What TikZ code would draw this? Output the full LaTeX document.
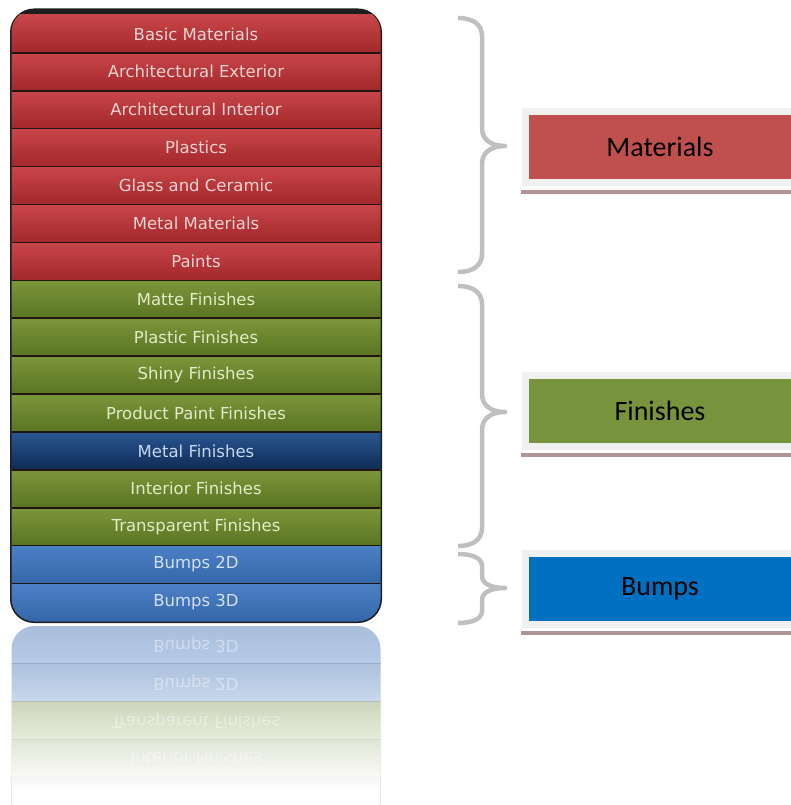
\documentclass[tikz,border=0pt]{standalone}
\usepackage{fontspec}
\newfontfamily\rowfont{DejaVu Sans}
\newfontfamily\labfont{Carlito}
\usetikzlibrary{calc}
\definecolor{rowT-red}{HTML}{C84649}
\definecolor{rowB-red}{HTML}{A3272B}
\definecolor{rowX-red}{HTML}{EED3D4}
\definecolor{rowT-green}{HTML}{7B963A}
\definecolor{rowB-green}{HTML}{5A7422}
\definecolor{rowX-green}{HTML}{E3EBC9}
\definecolor{rowT-mblue}{HTML}{2A5792}
\definecolor{rowB-mblue}{HTML}{0F2B56}
\definecolor{rowX-mblue}{HTML}{C6D7EF}
\definecolor{rowT-blue}{HTML}{4C80C4}
\definecolor{rowB-blue}{HTML}{3566AA}
\definecolor{rowX-blue}{HTML}{D3E0F3}
\definecolor{paneledge}{HTML}{1E1E1E}
\definecolor{sepcol}{HTML}{241515}
\definecolor{bracecol}{HTML}{BFBFBF}
\definecolor{framecol}{HTML}{F0F0F0}
\definecolor{shadowcol}{HTML}{B39494}
\definecolor{labred}{HTML}{C0504D}
\definecolor{labgreen}{HTML}{77933C}
\definecolor{labblue}{HTML}{0070C0}
\tikzset{
  rowbox/.style={minimum width=380pt, minimum height=37.9pt, inner sep=0pt, outer sep=0pt,
    font=\rowfont\fontsize{16.5}{18}\selectfont},
  sepline/.style={draw=sepcol, line width=1.6pt},
  bracestyle/.style={draw=bracecol, line width=4.5pt, line join=round},
  labelbox/.style={draw=framecol, line width=7pt, minimum width=269pt, minimum height=71pt,
    inner sep=0pt, font=\labfont\fontsize{28}{30}\selectfont, text=black},
  shadowbar/.style={fill=shadowcol}
}
\newcommand\mybrace[4]{%
  \draw[bracestyle] (458,#1) .. controls (474,#1) and (482,#1+#4*0.4) .. (482,#1+#4)
    -- (482,#2-#4) .. controls (482,#2-#4*0.4) and (490,#2) .. (505,#2)
    .. controls (490,#2) and (482,#2+#4*0.4) .. (482,#2+#4)
    -- (482,#3-#4) .. controls (482,#3-#4*0.4) and (474,#3) .. (458,#3);}
\begin{document}
\begin{tikzpicture}[x=1pt,y=-1pt]
\useasboundingbox (0,0) rectangle (790,805);
% panel base
\fill[paneledge, rounded corners=24pt] (10,8.5) rectangle (382,623);
\begin{scope}
  \clip[rounded corners=23pt] (11.5,9) rectangle (380.5,621.5);
  \foreach \t/\c [count=\i] in {Basic Materials/red, Architectural Exterior/red,
      Architectural Interior/red, Plastics/red, Glass and Ceramic/red, Metal Materials/red,
      Paints/red, Matte Finishes/green, Plastic Finishes/green, Shiny Finishes/green,
      Product Paint Finishes/green, Metal Finishes/mblue, Interior Finishes/green,
      Transparent Finishes/green, Bumps 2D/blue, Bumps 3D/blue}{
    \node[rowbox, top color=rowT-\c, bottom color=rowB-\c, text=rowX-\c] (r\i)
      at (196,{15+37.9*(\i-1)+18.95}) {\t};
  }
  \foreach \i in {1,...,15}{
    \draw[sepline] (r\i.south west) -- (r\i.south east);
  }
\end{scope}
% reflection
\begin{scope}
  \clip[rounded corners=23pt] (11.5,626) rectangle (380.5,860);
  \begin{scope}[opacity=0.42]
    \foreach \t/\c [count=\i] in {Bumps 3D/blue, Bumps 2D/blue, Transparent Finishes/green,
        Interior Finishes/green, Metal Finishes/mblue}{
      \node[rowbox, top color=rowB-\c, bottom color=rowT-\c, text=white] (f\i)
        at (196,{626+37.9*(\i-1)+18.95}) {\scalebox{1}[-1]{\t}};
    }
    \foreach \i in {1,...,4}{
      \draw[draw=gray!60, line width=1pt] (f\i.south west) -- (f\i.south east);
    }
  \end{scope}
  \foreach \k in {0,...,59}{
    \pgfmathsetmacro\op{min(1,(\k/46)^1.3)}
    \fill[white, opacity=\op] (8,{650+\k*3}) rectangle (384,{653.4+\k*3});
  }
\end{scope}
% braces
\mybrace{18}{146}{272}{18}
\mybrace{286}{412}{546}{18}
\mybrace{554}{588}{623}{12}
% label boxes
\node[labelbox, fill=labred] (mat) at (660,147) {Materials};
\node[labelbox, fill=labgreen] (fin) at (660,410.5) {Finishes};
\node[labelbox, fill=labblue] (bum) at (660,588.5) {Bumps};
\foreach \n in {mat,fin,bum}{
  \fill[shadowbar] ($(\n.south west)+(-1.5,3.5)$) rectangle ($(\n.south east)+(10,7.5)$);
}
\end{tikzpicture}
\end{document}
